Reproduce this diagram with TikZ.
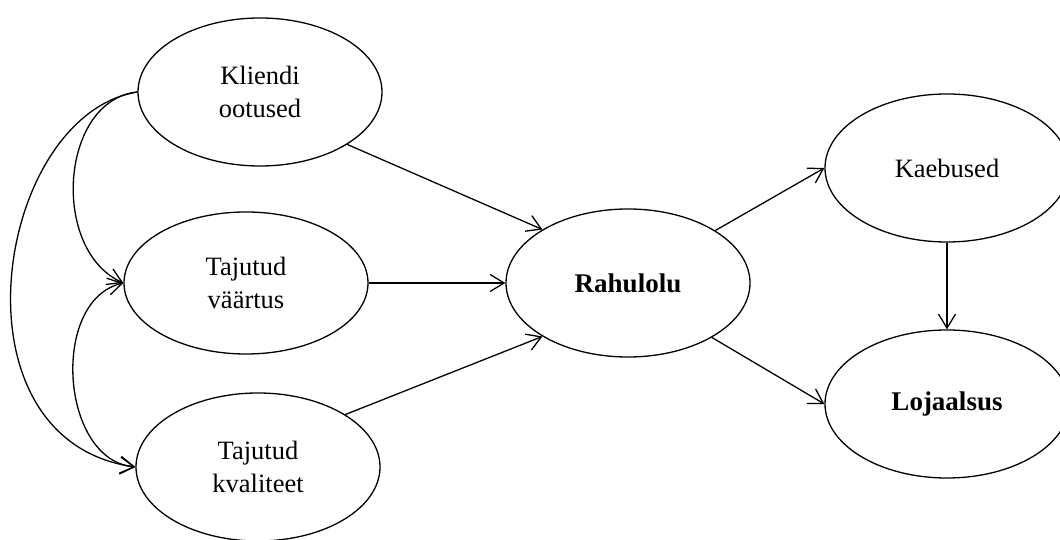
\documentclass[tikz,border=0pt]{standalone}
\usepackage{fontspec}
\setmainfont{Liberation Serif}
\usetikzlibrary{shapes.geometric,arrows.meta}
\begin{document}
\begin{tikzpicture}[x=1pt,y=1pt,
  construct/.style={ellipse,draw,line width=1.3pt,minimum width=244pt,minimum height=148pt,
    inner sep=0pt,align=center,font=\fontsize{26.5}{33}\selectfont},
  link/.style={line width=1.3pt,-{Straight Barb[length=14pt,width=17pt,line width=1.3pt]}},
  bilink/.style={line width=1.3pt,{Straight Barb[length=14pt,width=17pt,line width=1.3pt]}-{Straight Barb[length=14pt,width=17pt,line width=1.3pt]}}]
\useasboundingbox (0,0) rectangle (1060,540);

% constructs of the model
\node[construct] (ko) at (260,448) {Kliendi\\ootused};
\node[construct,minimum height=142pt] (vv) at (246,257) {Tajutud\\väärtus};
\node[construct] (kv) at (258,73) {Tajutud\\kvaliteet};
\node[construct,font=\fontsize{27}{33}\selectfont\bfseries] (ra) at (628,257) {Rahulolu};
\node[construct] (ka) at (947,372) {Kaebused};
\node[construct,font=\fontsize{27}{33}\selectfont\bfseries] (lo) at (947,136) {Lojaalsus};

% paths into satisfaction
\draw[link] (ko.-31) -- (ra.148);
\draw[link] (vv.east) -- (ra.west);
\draw[link] (kv.31) -- (ra.212);

% consequences of satisfaction
\draw[link] (ra.31) -- (ka.west);
\draw[link] (ra.-33) -- (lo.west);
\draw[link] (ka.south) -- (lo.north);

% correlations among the antecedents
\draw[link] (ko.west) .. controls (-5,425) and (-55,100) .. (kv.west);
\draw[link] (ko.west) .. controls (60,440) and (50,290) .. (vv.west);
\draw[bilink] (vv.west) .. controls (50,240) and (60,80) .. (kv.west);
\end{tikzpicture}
\end{document}
